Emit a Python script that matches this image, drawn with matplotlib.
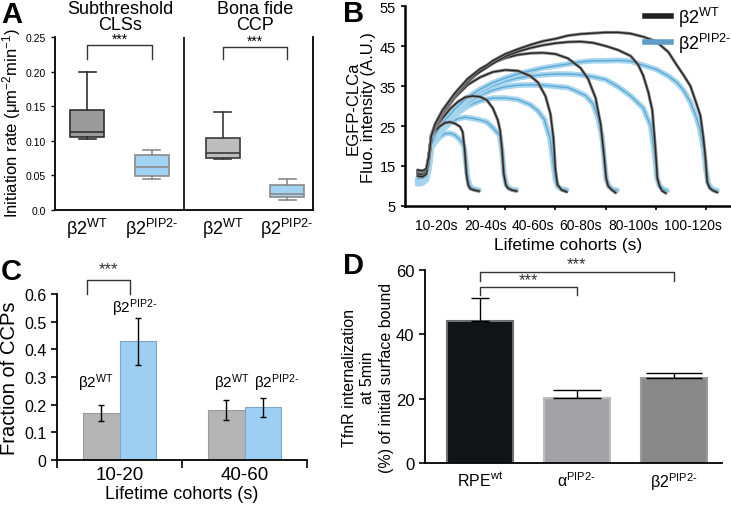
import matplotlib
matplotlib.use('Agg')
import matplotlib.pyplot as plt
from matplotlib.lines import Line2D

plt.rcParams['font.family'] = ['Liberation Sans', 'DejaVu Sans']
plt.rcParams['mathtext.fontset'] = 'custom'
plt.rcParams['mathtext.rm'] = 'Liberation Sans'
plt.rcParams['mathtext.it'] = 'Liberation Sans:italic'
plt.rcParams['mathtext.bf'] = 'Liberation Sans:bold'

# ---------------- data ----------------
# A: initiation rate boxes (whislo, q1, med, q3, whishi)
box_names = ['sub_wt', 'sub_pip2', 'ccp_wt', 'ccp_pip2']
box_whislo = [0.103, 0.045, 0.074, 0.015]
box_q1 = [0.105, 0.049, 0.075, 0.019]
box_med = [0.113, 0.062, 0.082, 0.023]
box_q3 = [0.145, 0.080, 0.104, 0.036]
box_whishi = [0.200, 0.087, 0.141, 0.045]
box_labels = [r'β2$^{\mathrm{WT}}$', r'β2$^{\mathrm{PIP2\text{-}}}$',
              r'β2$^{\mathrm{WT}}$', r'β2$^{\mathrm{PIP2\text{-}}}$']

# B: cohort mean intensity traces (time s, intensity A.U.)
wt1_t = [-5, -3, -1.5, -0.5, 0.5, 2, 4, 6, 8, 10, 12, 13, 13.8, 14.5, 15.2, 16, 17.5, 19.5]
wt1_v = [13.5, 13.3, 13.8, 17, 22.5, 23.8, 25, 25.8, 26, 25.6, 24.8, 23.5, 19, 13, 10.2, 9.3, 9, 8.7]
wt2_t = [-5, -3, -1.5, -0.5, 0.5, 2, 5, 8, 11, 14, 17, 20, 22.6, 25, 27, 27.9, 28.7, 29.4, 30.2, 31, 32.5, 34.5]
wt2_v = [13.2, 13, 13.6, 17, 22.3, 24.5, 27, 29.3, 31, 32.2, 32.5, 32.3, 31.5, 29.5, 26.5, 24, 19, 13, 10.3, 9.5, 9, 8.7]
wt3_t = [-5, -3, -1.5, -0.5, 0.5, 2, 5, 10, 15, 20, 25, 30, 35, 40, 43, 46, 48, 49.2, 50, 50.8, 52.5, 54.5]
wt3_v = [13.8, 13.6, 14, 17.3, 22.5, 24.5, 28, 32.2, 35.3, 37.2, 38.5, 39, 38.8, 37.5, 35.9, 32.5, 28, 22, 14, 10.3, 9, 8.5]
wt4_t = [-5, -3, -1.5, -0.5, 0.5, 2, 5, 10, 15, 20, 25, 30, 35, 40, 45, 50, 55, 60, 63, 66, 68, 69.3, 70.2, 71, 72.5, 74]
wt4_v = [13, 12.8, 13.4, 17, 22.8, 25, 28.3, 32.6, 36, 38.8, 40.8, 42, 42.8, 43.2, 43.3, 43, 41.9, 39.5, 36.8, 32, 25.5, 18, 12, 10, 9, 8.3]
wt5_t = [-5, -3, -1.5, -0.5, 0.5, 2, 5, 10, 15, 20, 25, 30, 35, 40, 45, 50, 55, 60, 65, 70, 75, 80, 83, 85, 87, 88.6, 89.8, 90.6, 91.5, 92.5, 94]
wt5_v = [12.5, 12.3, 13, 16.8, 22.7, 25.2, 28.6, 33, 36.5, 38.6, 40.6, 42.4, 43.6, 44.5, 45.2, 45.7, 46, 46.1, 45.8, 45, 44, 42.5, 40.3, 37.6, 33.5, 29, 20, 12, 10, 8.8, 8.2]
wt6_t = [-5, -3, -1.5, -0.5, 0.5, 2, 5, 10, 15, 20, 22.6, 25, 30, 35, 40, 45, 50, 55, 60, 65, 70, 75, 80, 85, 90, 95, 98.5, 101, 103.8, 106, 107.8, 109, 109.8, 110.5, 111.5, 113, 114.5]
wt6_v = [14, 13.8, 14.3, 17.5, 22.5, 25.5, 29, 33.3, 36.8, 39.3, 40.2, 41.3, 43, 44.2, 45.3, 46.2, 46.8, 47.6, 48, 48.2, 48.4, 48.4, 48.1, 47.3, 46.2, 43.5, 40.1, 37.8, 35, 31, 27.6, 22, 17, 11, 9.5, 8.8, 8.4]

mu1_t = [-5, -3, -1.5, -0.5, 0.5, 2, 4, 6, 8, 10, 12, 13.5, 14.2, 15, 15.8, 17, 19.5]
mu1_v = [10.5, 10.7, 11.5, 14, 19.5, 21, 22.3, 23.1, 23.2, 22.7, 21.5, 20, 16.5, 12, 10.2, 9.3, 9]
mu2_t = [-5, -3, -1.5, -0.5, 0.5, 2, 5, 8, 11, 14, 17, 20, 22.6, 25, 27.8, 28.8, 29.5, 30.5, 31.5, 33, 34.5]
mu2_v = [11, 11.2, 11.8, 14.5, 19.8, 21.5, 24, 25.8, 26.8, 27.2, 26.9, 26.5, 26, 24.6, 22.6, 18, 13, 10.2, 9.4, 9.1, 9]
mu3_t = [-5, -3, -1.5, -0.5, 0.5, 2, 5, 10, 15, 20, 25, 30, 35, 40, 43, 45.5, 47.9, 49, 50, 51, 52.5, 54.5]
mu3_v = [11.2, 11.4, 12, 14.5, 19.8, 21.8, 24.5, 27.8, 30, 31.3, 32, 32, 31.6, 30.3, 28.8, 26.7, 21.8, 16, 11.5, 9.8, 9.2, 9]
mu4_t = [-5, -3, -1.5, -0.5, 0.5, 2, 5, 10, 15, 20, 25, 30, 35, 40, 45, 50, 55, 58, 62, 65, 67, 68.7, 69.5, 70.3, 71.5, 73, 74.6]
mu4_v = [11, 11.2, 11.9, 14.5, 19.7, 22, 24.8, 28.2, 30.7, 32.7, 34, 34.8, 35.2, 35.3, 35.2, 34.9, 34.6, 33.8, 32.6, 30.5, 27, 21.7, 16, 11.5, 9.8, 9.1, 8.9]
mu5_t = [-5, -3, -1.5, -0.5, 0.5, 2, 5, 10, 15, 20, 25, 30, 35, 40, 45, 50, 55, 60, 65, 70, 75, 80, 85, 88, 89.5, 90.5, 91.5, 93, 94.5]
mu5_v = [11.5, 11.7, 12.2, 14.8, 20, 22.3, 25.3, 28.8, 31.5, 33.5, 35, 36.2, 37, 37.5, 37.8, 38, 38, 37.8, 37.3, 36.6, 34.8, 32.5, 29.5, 25, 18, 12, 10, 9.2, 8.8]
mu6_t = [-5, -3, -1.5, -0.5, 0.5, 2, 5, 10, 15, 20, 25, 30, 35, 40, 45, 50, 55, 60, 65, 70, 75, 80, 85, 90, 95, 98.5, 101, 103.8, 106, 107.5, 109, 110, 111, 112.5, 114.5]
mu6_v = [11.8, 12, 12.5, 15, 20.2, 22.6, 25.8, 29.3, 32.2, 34.2, 35.8, 37, 38, 38.8, 39.5, 40, 40.5, 41, 41.3, 41.3, 41.4, 41.2, 40.2, 39.2, 37.5, 35.8, 34, 31, 27.5, 24.5, 19.5, 14, 10.5, 9.2, 8.8]

cohort_ticks = [15, 30, 50, 70, 90, 110]
cohort_label_pos = [2.6, 22.2, 41, 59.8, 81, 105]
cohort_labels = ['10-20s', '20-40s', '40-60s', '60-80s', '80-100s', '100-120s']

# C: fraction of CCPs per cohort
c_groups = ['10-20', '40-60']
c_wt = [0.17, 0.18]
c_wt_err = [0.030, 0.037]
c_pip2 = [0.43, 0.19]
c_pip2_err = [0.085, 0.033]

# D: TfnR internalization
d_names = [r'RPE$^{\mathrm{wt}}$', r'α$^{\mathrm{PIP2\text{-}}}$', r'β2$^{\mathrm{PIP2\text{-}}}$']
d_vals = [44.3, 20.3, 26.5]
d_err = [6.9, 2.3, 1.4]

W, H = 731, 506
fig = plt.figure(figsize=(W / 100, H / 100), dpi=100)


def ax_px(l, t, r, b):
    return fig.add_axes([l / W, 1 - b / H, (r - l) / W, (b - t) / H])


# ---------------- panel A ----------------
axA = ax_px(55, 38, 313, 211)
pos = [0.5, 1.5, 2.6, 3.6]
stats = []
for i in range(4):
    stats.append(dict(whislo=box_whislo[i], q1=box_q1[i], med=box_med[i],
                      q3=box_q3[i], whishi=box_whishi[i], fliers=[]))
fills = ['#9b9b9b', '#a3d3f2', '#bdbdbd', '#a3d3f2']
edges = ['#303030', '#8a8a8a', '#3a3a3a', '#8a8a8a']
for i in range(4):
    axA.bxp([stats[i]], positions=[pos[i]], widths=0.53, showfliers=False,
            patch_artist=True, capwidths=0.26,
            boxprops=dict(facecolor=fills[i], edgecolor=edges[i], lw=1.2),
            medianprops=dict(color=edges[i], lw=1.2),
            whiskerprops=dict(color=edges[i], lw=1.2),
            capprops=dict(color=edges[i], lw=1.2))
axA.set_xlim(0, 4)
axA.set_ylim(0, 0.25)
axA.set_yticks([0, 0.05, 0.10, 0.15, 0.20, 0.25])
axA.set_yticklabels(['0.0', '0.05', '0.10', '0.15', '0.20', '0.25'], fontsize=7.5)
axA.set_xticks(pos)
axA.set_xticklabels(box_labels, fontsize=13)
axA.tick_params(axis='x', length=0, pad=4)
axA.tick_params(axis='y', length=3, width=1)
axA.spines['top'].set_visible(False)
for s in ['left', 'bottom', 'right']:
    axA.spines[s].set_linewidth(1.3)
axA.axvline(2, color='black', lw=1.2)
for x0, x1, ytop in [(0.5, 1.5, 0.238), (2.6, 3.6, 0.236)]:
    axA.plot([x0, x0, x1, x1], [0.218, ytop, ytop, 0.218], color='#333333', lw=1)
    axA.text((x0 + x1) / 2, ytop - 0.001, '***', ha='center', va='bottom', fontsize=10)
fig.text(120 / W, 1 - 1 / H, 'Subthreshold\nCLSs', ha='center', va='top', fontsize=13,
         linespacing=0.95)
fig.text(255 / W, 1 - 1 / H, 'Bona fide\nCCP', ha='center', va='top', fontsize=13,
         linespacing=0.95)
fig.text(12 / W, 1 - 123 / H, r'Initiation rate (μm$^{-2}$min$^{-1}$)', rotation=90,
         ha='center', va='center', fontsize=12)

# ---------------- panel B ----------------
axB = ax_px(405, 7, 731, 207)
mu_series = [(mu1_t, mu1_v), (mu2_t, mu2_v), (mu3_t, mu3_v),
             (mu4_t, mu4_v), (mu5_t, mu5_v), (mu6_t, mu6_v)]
wt_series = [(wt1_t, wt1_v), (wt2_t, wt2_v), (wt3_t, wt3_v),
             (wt4_t, wt4_v), (wt5_t, wt5_v), (wt6_t, wt6_v)]
for t, v in mu_series:
    axB.plot(t, v, color='#a8d5ee', lw=4.0, solid_capstyle='round')
    axB.plot(t, v, color='#5aa9d6', lw=1.0)
for t, v in wt_series:
    axB.plot(t, v, color='#858585', lw=2.2, solid_capstyle='round')
    axB.plot(t, v, color='#262626', lw=1.0)
axB.set_xlim(-10, 120)
axB.set_ylim(5, 55)
axB.set_yticks([5, 15, 25, 35, 45, 55])
axB.tick_params(axis='y', labelsize=10.5, length=3, width=1.2)
axB.set_xticks(cohort_ticks)
axB.set_xticklabels([])
axB.tick_params(axis='x', length=3, width=1.2)
axB.set_xticks(cohort_label_pos, minor=True)
axB.set_xticklabels(cohort_labels, minor=True, fontsize=10)
axB.tick_params(axis='x', which='minor', length=0, pad=9)
for s in ['top', 'right']:
    axB.spines[s].set_visible(False)
for s in ['left', 'bottom']:
    axB.spines[s].set_linewidth(1.8)
axB.set_xlabel('Lifetime cohorts (s)', fontsize=12.5, labelpad=3)
fig.text(361 / W, 1 - 108 / H, 'EGFP-CLCa\nFluo. intensity (A.U.)', rotation=90,
         ha='center', va='center', fontsize=12, linespacing=1.0)
handles = [Line2D([], [], color='#222222', lw=4), Line2D([], [], color='#5f9dc9', lw=4)]
axB.legend(handles, [r'β2$^{\mathrm{WT}}$', r'β2$^{\mathrm{PIP2\text{-}}}$'],
           loc='upper right', bbox_to_anchor=(1.04, 1.07), frameon=False,
           fontsize=13, handlelength=1.4, handletextpad=0.4, labelspacing=0.1,
           borderpad=0.2)

# ---------------- panel C ----------------
axC = ax_px(57, 295, 307, 461)
gx = [0.5, 1.5]
bw = 0.29
for i in range(2):
    axC.bar(gx[i] - 0.145, c_wt[i], bw, color='#b4b4b4', edgecolor='#9c9c9c', lw=0.8)
    axC.bar(gx[i] + 0.145, c_pip2[i], bw, color='#9dcff2', edgecolor='#7ea6c6', lw=0.8)
    axC.errorbar(gx[i] - 0.145, c_wt[i], yerr=c_wt_err[i], color='black', lw=1,
                 capsize=2.5, capthick=1)
    axC.errorbar(gx[i] + 0.145, c_pip2[i], yerr=c_pip2_err[i], color='black', lw=1,
                 capsize=2.5, capthick=1)
axC.set_xlim(0, 2)
axC.set_ylim(0, 0.6)
axC.set_yticks([0, 0.1, 0.2, 0.3, 0.4, 0.5, 0.6])
axC.set_yticklabels(['0', '0.1', '0.2', '0.3', '0.4', '0.5', '0.6'], fontsize=11.5)
axC.tick_params(axis='y', length=4, width=1.2)
axC.set_xticks([0, 1, 2])
axC.set_xticklabels([])
axC.tick_params(axis='x', length=6, width=1.2)
axC.set_xticks(gx, minor=True)
axC.set_xticklabels(c_groups, minor=True, fontsize=13.5)
axC.tick_params(axis='x', which='minor', length=0, pad=4)
for s in ['top', 'right']:
    axC.spines[s].set_visible(False)
for s in ['left', 'bottom']:
    axC.spines[s].set_linewidth(1.3)
axC.set_xlabel('Lifetime cohorts (s)', fontsize=13, labelpad=2)
axC.set_ylabel('Fraction of CCPs', fontsize=14.5, labelpad=4)
axC.text(0.31, 0.282, r'β2$^{\mathrm{WT}}$', ha='center', va='center', fontsize=11)
axC.text(0.62, 0.553, r'β2$^{\mathrm{PIP2\text{-}}}$', ha='center', va='center', fontsize=11)
axC.text(1.40, 0.282, r'β2$^{\mathrm{WT}}$', ha='center', va='center', fontsize=11)
axC.text(1.76, 0.282, r'β2$^{\mathrm{PIP2\text{-}}}$', ha='center', va='center', fontsize=11)
axC.plot([0.24, 0.24, 0.58, 0.58], [0.6, 0.65, 0.65, 0.6], color='#333333', lw=1,
         clip_on=False)
axC.text(0.41, 0.665, '***', ha='center', va='bottom', fontsize=12, color='#333333')

# ---------------- panel D ----------------
axD = ax_px(425, 271, 722, 464)
dx = [0, 1, 2]
d_cols = ['#121315', '#a3a3a7', '#888888']
d_edges = ['#6e6e6e', '#bdbdbd', '#9c9c9c']
d_caps = [6.5, 17, 20]
for i in range(3):
    axD.bar(dx[i], d_vals[i], 0.68, color=d_cols[i], edgecolor=d_edges[i], lw=1.5)
    axD.errorbar(dx[i], d_vals[i], yerr=[[0], [d_err[i]]], color='black', lw=1,
                 capsize=d_caps[i], capthick=1)
axD.set_xlim(-0.567, 2.5)
axD.set_ylim(0, 60)
axD.set_yticks([0, 20, 40, 60])
axD.tick_params(axis='y', labelsize=12, length=4, width=1.2)
axD.set_xticks(dx)
axD.set_xticklabels(d_names, fontsize=11.5)
axD.tick_params(axis='x', length=0, pad=5)
for s in ['top', 'right']:
    axD.spines[s].set_visible(False)
for s in ['left', 'bottom']:
    axD.spines[s].set_linewidth(1.3)
axD.plot([0, 0, 1, 1], [52.2, 54.6, 54.6, 52.2], color='#333333', lw=1, clip_on=False)
axD.plot([0, 0, 2, 2], [56.7, 59.3, 59.3, 56.7], color='#333333', lw=1, clip_on=False)
axD.text(0.5, 54.8, '***', ha='center', va='bottom', fontsize=12, color='#333333')
axD.text(1.0, 59.5, '***', ha='center', va='bottom', fontsize=12, color='#333333')
fig.text(368 / W, 1 - 378 / H, 'TfnR internalization\nat 5min\n(%) of initial surface bound',
         rotation=90, ha='center', va='center', fontsize=11.5, linespacing=1.3)

# ---------------- panel letters ----------------
for lx, ly, letter in [(1, 1, 'A'), (343, 0, 'B'), (1, 258, 'C'), (343, 252, 'D')]:
    fig.text(lx / W, 1 - ly / H, letter, ha='left', va='top', fontsize=21,
             fontweight='bold')

fig.savefig('out.png', dpi=100)
